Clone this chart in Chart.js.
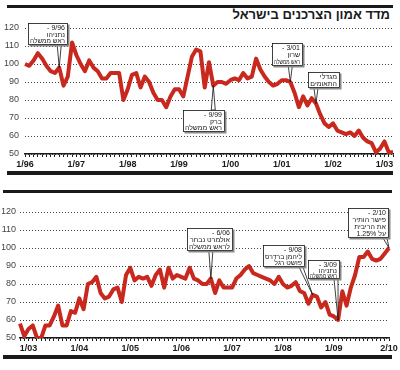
<!DOCTYPE html>
<html lang="he">

<head>
    <meta charset="UTF-8">
    <title>מדד אמון הצרכנים בישראל</title>
    <script src="https://cdn.jsdelivr.net/npm/chart.js"></script>
    <style>
        body {
            margin: 0;
            width: 400px;
            height: 370px;
            background: #fff;
            position: relative;
            overflow: hidden;
            font-family: "Liberation Sans", Arial, sans-serif;
        }

        .bar {
            position: absolute;
            background: #1a1a1a;
        }

        h1 {
            position: absolute;
            margin: 0;
            right: 10px;
            top: 7px;
            font-size: 13px;
            line-height: 16px;
            font-weight: bold;
            direction: rtl;
            color: #1a1a1a;
        }

        canvas {
            position: absolute;
            left: 0;
        }
    </style>
</head>

<body>
    <div class="bar" style="left:7px;top:5px;width:386px;height:3px"></div>
    <h1>מדד אמון הצרכנים בישראל</h1>
    <canvas id="topChart" width="400" height="172" style="top:0;width:400px;height:172px"></canvas>
    <div class="bar" style="left:7px;top:171px;width:386px;height:4px"></div>

    <div class="bar" style="left:3px;top:190px;width:389px;height:3px"></div>
    <canvas id="bottomChart" width="400" height="178" style="top:180px;width:400px;height:178px"></canvas>
    <div class="bar" style="left:3px;top:355px;width:389px;height:4px"></div>

    <script>
        // monthly index, 1/96 .. 3/03
        const topValues = [
            100, 99, 102, 106, 103, 99, 96, 95, 98, 88,
            93, 112, 105, 100, 96, 102, 98, 96, 92, 92,
            95, 95, 95, 80, 86, 94, 95, 87, 93, 90,
            84, 80, 80, 76, 82, 86, 86, 82, 93, 104,
            108, 107, 87, 101, 88, 90, 90, 89, 91, 92,
            91, 95, 92, 93, 103, 97, 93, 90, 88, 89,
            91, 91, 90, 84, 76, 82, 77, 81, 78, 72,
            67, 65, 67, 63, 62, 61, 62, 60, 63, 59,
            57, 56, 51, 53, 57, 51, 51
        ];
        const topTickLabels = ['1/96', '1/97', '1/98', '1/99', '1/00', '1/01', '1/02', '1/03'];

        // monthly index, 11/02 .. 2/10
        const bottomValues = [
            58, 51, 55, 57, 50, 50, 57, 57, 62, 68,
            57, 57, 65, 64, 72, 66, 80, 81, 84, 75,
            72, 73, 77, 78, 70, 85, 89, 82, 84, 83,
            84, 79, 85, 88, 78, 89, 83, 85, 84, 83,
            89, 83, 82, 80, 80, 83, 75, 82, 78, 78,
            78, 83, 85, 88, 90, 86, 85, 84, 83, 82,
            80, 84, 80, 78, 79, 81, 76, 75, 69, 74,
            73, 67, 70, 63, 62, 60, 76, 68, 78, 85,
            95, 95, 98, 94, 93, 94, 97, 100
        ];
        const bottomTickLabels = ['1/03', '1/04', '1/05', '1/06', '1/07', '1/08', '1/09', '2/10'];

        const topNotes = [
            { idx: 8, lines: ['9/96 -', 'נתניהו', 'ראש ממשלה'] },
            { idx: 44, lines: ['9/99 -', 'ברק', 'ראש ממשלה'] },
            { idx: 62, lines: ['3/01 -', 'שרון', 'ראש ממשלה'] },
            { idx: 68, lines: ['מגדלי', 'התאומים'] }
        ];
        const bottomNotes = [
            { idx: 45, lines: ['6/06 -', 'אולמרט נבחר', 'לראש ממשלה'] },
            { idx: 69, lines: ['9/08 -', 'ליהמן ברדרס', 'פושט רגל'] },
            { idx: 75, lines: ['3/09 -', 'נתניהו', 'ראש ממשלה'] },
            { idx: 87, lines: ['2/10 -', 'פישר הותיר', 'את הריבית', 'על 1.25%'] }
        ];

        // where the callout boxes sit, in canvas pixels [x, y, w, h]
        const topBoxes = [[28, 23, 40, 22], [183, 110, 42, 22], [272, 43, 31, 23], [308, 72, 32, 16]];
        const bottomBoxes = [[187, 48, 46, 23], [263, 65, 42, 22], [308, 80, 32, 19], [348, 28, 41, 30]];

        function monthLabels(month, year, count) {
            const out = [];
            for (let i = 0; i < count; i++) {
                out.push(month + '/' + String(year % 100).padStart(2, '0'));
                month++;
                if (month > 12) { month = 1; year++; }
            }
            return out;
        }

        function makeCallouts(notes, boxes) {
            return {
                id: 'callouts',
                afterDatasetsDraw(chart) {
                    const ctx = chart.ctx;
                    const data = chart.data.datasets[0].data;
                    ctx.save();
                    notes.forEach((note, n) => {
                        const [bx, by, bw, bh] = boxes[n];
                        const px = chart.scales.x.getPixelForValue(note.idx);
                        const py = chart.scales.y.getPixelForValue(data[note.idx]);
                        const edgeY = py > by + bh ? by + bh : by;
                        const baseX = Math.min(Math.max(px, bx + 4), bx + bw - 4);

                        // tail
                        ctx.beginPath();
                        ctx.moveTo(baseX - 2, edgeY);
                        ctx.lineTo(px, py);
                        ctx.lineTo(baseX + 2, edgeY);
                        ctx.closePath();
                        ctx.fillStyle = '#fff';
                        ctx.fill();
                        ctx.strokeStyle = '#111';
                        ctx.lineWidth = 0.8;
                        ctx.stroke();

                        // box with shadow
                        ctx.fillStyle = '#8a8a8a';
                        ctx.fillRect(bx + 1.5, by + 1.5, bw, bh);
                        ctx.fillStyle = '#fff';
                        ctx.fillRect(bx, by, bw, bh);
                        ctx.strokeRect(bx + 0.5, by + 0.5, bw - 1, bh - 1);

                        ctx.fillStyle = '#1a1a1a';
                        ctx.font = '7px "Liberation Sans", Arial, sans-serif';
                        ctx.direction = 'rtl';
                        ctx.textAlign = 'right';
                        ctx.textBaseline = 'top';
                        const lh = (bh - 3) / note.lines.length;
                        note.lines.forEach((line, k) => {
                            ctx.fillText(line, bx + bw - 3, by + 2 + k * lh, bw - 5);
                        });
                    });
                    ctx.restore();
                }
            };
        }

        function drawPanel(id, labels, values, tickLabels, notes, boxes, pad, yWidth, yPad) {
            new Chart(document.getElementById(id), {
                type: 'line',
                data: {
                    labels: labels,
                    datasets: [{
                        data: values,
                        borderColor: '#c8281e',
                        borderWidth: 4,
                        borderJoinStyle: 'round',
                        pointRadius: 0,
                        tension: 0
                    }]
                },
                options: {
                    responsive: false,
                    animation: false,
                    devicePixelRatio: 1,
                    layout: { padding: pad },
                    plugins: {
                        legend: { display: false },
                        tooltip: { enabled: false }
                    },
                    scales: {
                        x: {
                            type: 'category',
                            offset: false,
                            afterFit: s => { s.height = 18; },
                            grid: { drawOnChartArea: false, drawTicks: true, tickLength: 3, color: '#1a1a1a', lineWidth: 1 },
                            border: { color: '#1a1a1a', width: 1.5 },
                            ticks: {
                                autoSkip: false,
                                maxRotation: 0,
                                padding: 2,
                                color: '#1a1a1a',
                                font: { family: '"Liberation Sans Narrow", "Liberation Sans", Arial', size: 9, weight: 'bold' },
                                callback: function (v, i) {
                                    const l = labels[i];
                                    return tickLabels.includes(l) ? l : '';
                                }
                            }
                        },
                        y: {
                            min: 50,
                            max: 120,
                            afterFit: s => { s.width = yWidth; },
                            grid: { drawTicks: false, color: '#444', lineWidth: 1 },
                            border: { display: false, dash: [1, 2] },
                            ticks: {
                                stepSize: 10,
                                padding: yPad,
                                color: '#444',
                                font: { family: '"Liberation Sans", Arial', size: 9 }
                            }
                        }
                    }
                },
                plugins: [makeCallouts(notes, boxes)]
            });
        }

        drawPanel('topChart', monthLabels(1, 1996, topValues.length), topValues, topTickLabels,
            topNotes, topBoxes, { left: 3, right: 7, top: 28, bottom: 0 }, 22, 6);
        drawPanel('bottomChart', monthLabels(11, 2002, bottomValues.length), bottomValues, bottomTickLabels,
            bottomNotes, bottomBoxes, { left: 2, right: 11, top: 32, bottom: 2 }, 18, 4);
    </script>
</body>

</html>
